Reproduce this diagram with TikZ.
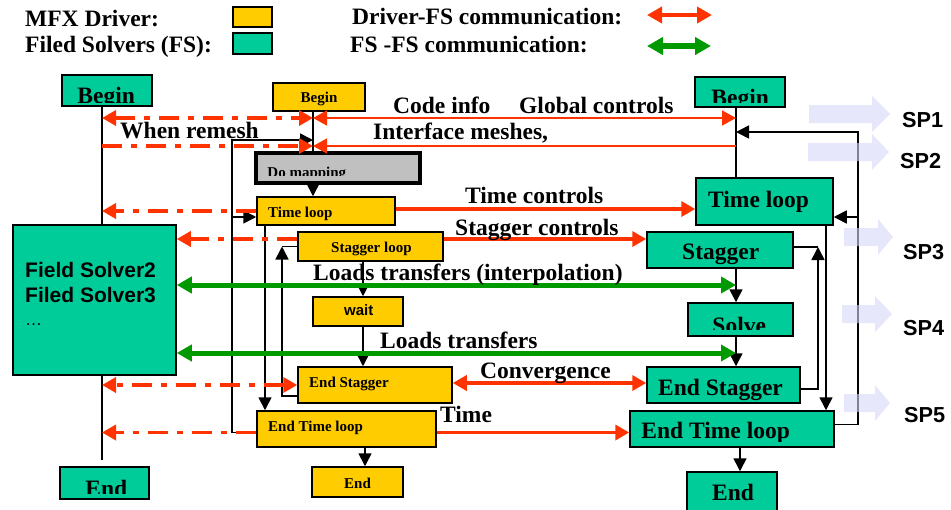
\documentclass[tikz,border=0pt]{standalone}
\usepackage{fontspec}
\setmainfont{Liberation Serif}
\setsansfont{Liberation Sans}
\usetikzlibrary{arrows.meta,fit}
\definecolor{drvyellow}{HTML}{FFCC00}
\definecolor{fsteal}{HTML}{00CC99}
\definecolor{commred}{HTML}{FF3300}
\definecolor{commgreen}{HTML}{009900}
\definecolor{mapgray}{HTML}{C0C0C0}
\definecolor{spblue}{RGB}{215,215,248}
\newcommand\fBig{\fontsize{23.5}{26}\selectfont\bfseries}
\newcommand\fSmall{\fontsize{15}{17}\selectfont\bfseries}
\newcommand\fSans{\sffamily\fontsize{21}{24}\selectfont\bfseries}
\newcommand\fSansS{\sffamily\fontsize{15}{17}\selectfont\bfseries}
\newcommand\fSP{\sffamily\fontsize{21.7}{24}\selectfont\bfseries}
% faint block arrow: left x, head base x, tip x, centre y
\newcommand\sparrowshape[4]{%
  \fill[spblue, fill opacity=0.6] (#1,#4-9) -- (#2,#4-9) -- (#2,#4-18) -- (#3,#4)
    -- (#2,#4+18) -- (#2,#4+9) -- (#1,#4+9) -- cycle;}
% box label whose lower part is cut off: node, x offset, baseline offset, cut height, font, text
\newcommand\cutlabel[6]{%
  \begin{scope}
    \clip ([yshift=#4]#1.south west) rectangle (#1.north east);
    \node[anchor=base west, inner sep=0pt, font=#5] at ([xshift=#2,yshift=#3]#1.south west) {#6};
  \end{scope}}
\begin{document}
\begin{tikzpicture}[x=1pt, y=-1pt,
  box/.style={draw=black, line width=1.5pt, inner sep=0pt},
  ybox/.style={box, fill=drvyellow},
  tbox/.style={box, fill=fsteal},
  mbox/.style={box, fill=mapgray, line width=3.5pt},
  lbl/.style={anchor=base west, inner sep=0pt, font=\fBig},
  slbl/.style={anchor=base west, inner sep=0pt, font=\fSmall},
  blkline/.style={draw=black, line width=1.6pt},
  blk/.style={blkline, -{Triangle[length=13pt,width=13pt]}},
  rthin/.style={draw=commred, line width=1.8pt, >={Triangle[length=14pt,width=15pt]}},
  rsolid/.style={draw=commred, line width=3.5pt, >={Triangle[length=14pt,width=15pt]}},
  rdash/.style={draw=commred, line width=3.5pt, dash pattern=on 20pt off 9pt on 6pt off 9pt,
     >={Triangle[length=14pt,width=15pt]}},
  gline/.style={draw=commgreen, line width=5pt, >={Triangle[length=15pt,width=16pt]}},
]
\useasboundingbox (0,0) rectangle (951,509);
\clip (0,0) rectangle (951,509);

% ---------- legend ----------
\node[lbl] (legA) at (25,26) {MFX Driver:};
\node[lbl] (legB) at (25,52) {Filed Solvers (FS):};
\node[ybox, fit={(233,7)(272,27)}] (legY) {};
\node[tbox, fit={(233,33)(272,54)}] (legT) {};
\node[lbl] (legC) at (352,24) {Driver-FS communication:};
\node[lbl] (legD) at (350,52) {FS -FS communication:};
\coordinate (legR1) at (647,15);
\coordinate (legR2) at (712,15);
\coordinate (legG1) at (647,46);
\coordinate (legG2) at (711,46);
\draw[draw=commred, line width=4.5pt, {Triangle[length=15pt,width=16pt]}-{Triangle[length=15pt,width=16pt]}] (legR1) -- (legR2);
\draw[draw=commgreen, line width=5.5pt, {Triangle[length=16pt,width=17pt]}-{Triangle[length=16pt,width=17pt]}] (legG1) -- (legG2);

% ---------- lanes ----------
\coordinate (fsL) at (102,0);
\coordinate (drv) at (313,0);
\coordinate (fsR) at (736,0);
\coordinate (lpA) at (232,0);
\coordinate (lpB) at (265,0);
\coordinate (lpC) at (282,0);
\coordinate (cx)  at (363,0);
\coordinate (ex)  at (365,0);
\coordinate (lpD) at (818,0);
\coordinate (lpE) at (826,0);
\coordinate (lpF) at (858,0);
\coordinate (ex2) at (740,0);
\coordinate (yCode) at (0,118);
\coordinate (yMesh) at (0,146);
\coordinate (yRem)  at (0,140);
\coordinate (yRet)  at (0,132);
\coordinate (yLT1)  at (0,285);
\coordinate (yLT2)  at (0,353);
\coordinate (yLEnd) at (0,460);

% ---------- left field solvers ----------
\node[tbox, fit={(62,75)(152,106)}] (lBegin) {};
\cutlabel{lBegin}{16}{3}{4.5}{\fBig}{Begin}
\node[tbox, fit={(13,225)(176,375)}] (lFS) {};
\node[anchor=base west, inner sep=0pt, font=\fSans] (fs2) at (25,277) {Field Solver2};
\node[anchor=base west, inner sep=0pt, font=\fSans] (fs3) at (25,302) {Filed Solver3};
\node[anchor=base west, inner sep=0pt, font=\sffamily\fontsize{17}{20}\selectfont] (fsd) at (25,325) {…};
\node[tbox, fit={(60,467)(149,499)}] (lEnd) {};
\cutlabel{lEnd}{26}{3.5}{6}{\fBig}{End}

% ---------- MFX driver ----------
\node[ybox, fit={(273,83)(365,111)}] (dBegin) {};
\node[slbl, anchor=base] at (319,102) {Begin};
\node[mbox, fit={(256,153)(420,183)}] (dMap) {};
\cutlabel{dMap}{13}{7}{9}{\fSmall}{Do mapping}
\node[ybox, fit={(257,197)(395,225)}] (dTime) {};
\node[slbl] at (268,217) {Time loop};
\node[ybox, fit={(298,232)(443,261)}] (dStag) {};
\node[slbl] at (331,252) {Stagger loop};
\node[ybox, fit={(313,297)(403,326)}] (dWait) {};
\node[anchor=base west, inner sep=0pt, font=\fSansS] at (344,315) {wait};
\node[ybox, fit={(298,367)(452,403)}] (dEStag) {};
\node[slbl] at (309,387) {End Stagger};
\node[ybox, fit={(257,411)(436,447)}] (dETime) {};
\node[slbl] at (268,431) {End Time loop};
\node[ybox, fit={(312,467)(403,497)}] (dEnd) {};
\node[slbl] at (344,488) {End};

% ---------- right field solver ----------
\node[tbox, fit={(695,77)(785,107)}] (rBegin) {};
\cutlabel{rBegin}{17}{2.5}{5}{\fBig}{Begin}
\node[tbox, fit={(696,178)(833,225)}] (rTime) {};
\node[lbl] at (708,207) {Time loop};
\node[tbox, fit={(647,232)(793,268)}] (rStag) {};
\node[lbl] at (682,259) {Stagger};
\node[tbox, fit={(688,303)(793,336)}] (rSolve) {};
\cutlabel{rSolve}{25}{3.5}{7}{\fBig}{Solve}
\node[tbox, fit={(647,367)(800,403)}] (rEStag) {};
\node[lbl] at (658,395) {End Stagger};
\node[tbox, fit={(630,411)(834,447)}] (rETime) {};
\cutlabel{rETime}{12}{9}{6}{\fBig}{End Time loop}
\node[tbox, fit={(687,472)(777,515)}] (rEnd) {};
\node[lbl] at (712,500) {End};

% ---------- lifelines and control flow ----------
\draw[blkline] (lBegin.south -| fsL) -- (lFS.north -| fsL);
\draw[blkline] (lFS.south -| fsL) -- (fsL |- yLEnd);
\draw[blkline] (rBegin.south -| fsR) -- (rTime.north -| fsR);
\draw[blkline] (dBegin.south -| drv) -- (dMap.north -| drv);
\draw[blk] (dMap.south -| drv) -- (dTime.north -| drv);

\draw[blk] ([yshift=-3.5]dETime.west) -| (lpA |- yRem) -- (drv |- yRem);
\draw[blk] ([yshift=-6]dTime.west -| lpA) -- ([yshift=-6]dTime.west);
\draw[blk] (dTime.south -| lpB) -- (dETime.north -| lpB);
\draw[blk] ([yshift=-11]dEStag.west) -| (dStag.west -| lpC);
\draw[blkline] (dStag.west -| lpC) -- (dStag.west);
\draw[blk] (dStag.south -| cx) -- (dWait.north -| cx);
\draw[blk] (dWait.south -| cx) -- (dEStag.north -| cx);
\draw[blk] (dETime.south -| ex) -- (dEnd.north -| ex);

\draw[blk] ([yshift=4.5]rETime.east) -| (lpF |- yRet) -- (fsR |- yRet);
\draw[blk] ([yshift=-15.5]rTime.east -| lpF) -- ([yshift=-15.5]rTime.east);
\draw[blk] (rTime.south -| lpE) -- (rETime.north -| lpE);
\draw[blk] ([yshift=-4]rEStag.east) -| ([yshift=3]rStag.east -| lpD);
\draw[blkline] ([yshift=3]rStag.east -| lpD) -- ([yshift=3]rStag.east);
\draw[blk] (rStag.south -| fsR) -- (rSolve.north -| fsR);
\draw[blk] (rSolve.south -| fsR) -- (rEStag.north -| fsR);
\draw[blk] (rETime.south -| ex2) -- (rEnd.north -| ex2);

% ---------- driver to field solver messages ----------
\draw[rdash,<->] (fsL |- yCode) -- (drv |- yCode);
\draw[rdash,->] (fsL |- yMesh) -- (drv |- yMesh);
\draw[rdash,->] (dTime.west) -- (dTime.west -| fsL);
\draw[rdash,->] ([yshift=7.5]dStag.west) -- ([yshift=7.5]dStag.west -| lFS.east);
\draw[rdash,<->] (dEStag.west) -- (dEStag.west -| fsL);
\draw[rdash,->] ([yshift=-3.5]dETime.west) -- ([yshift=-3.5]dETime.west -| fsL);

\draw[rthin,<->] (drv |- yCode) -- (fsR |- yCode);
\draw[rthin,->, line width=1.5pt] (fsR |- yMesh) -- (drv |- yMesh);
\draw[rsolid,->] ([yshift=2]dTime.east) -- ([yshift=2]dTime.east -| rTime.west);
\draw[rsolid,->] ([yshift=7.5]dStag.east) -- ([yshift=7.5]dStag.east -| rStag.west);
\draw[rsolid,<->] ([yshift=2]dEStag.east) -- ([yshift=2]dEStag.east -| rEStag.west);
\draw[rsolid,->] ([yshift=-3.5]dETime.east) -- ([yshift=-3.5]dETime.east -| rETime.west);

% ---------- field solver to field solver transfers ----------
\draw[gline,<->] (lFS.east |- yLT1) -- (fsR |- yLT1);
\draw[gline,<->] (lFS.east |- yLT2) -- (fsR |- yLT2);

% ---------- message labels ----------
\node[lbl] at (393,113) {Code info};
\node[lbl] at (519,113) {Global controls};
\node[lbl] at (373,139) {Interface meshes,};
\node[lbl] at (120,138) {When remesh};
\node[lbl] at (465,203) {Time controls};
\node[lbl] at (455,235) {Stagger controls};
\node[lbl] at (313,280) {Loads transfers (interpolation)};
\node[lbl] at (380,348) {Loads transfers};
\node[lbl] at (480,378) {Convergence};
\node[lbl] at (440,422) {Time};

% ---------- sub-process markers ----------
\sparrowshape{809}{872}{890}{114}
\sparrowshape{808}{872}{889}{152}
\sparrowshape{844}{878}{893}{237}
\sparrowshape{842}{875}{892}{314}
\sparrowshape{844}{875}{890}{403}
\node[anchor=base west, inner sep=0pt, font=\fSP] at (902,127) {SP1};
\node[anchor=base west, inner sep=0pt, font=\fSP] at (900,168) {SP2};
\node[anchor=base west, inner sep=0pt, font=\fSP] at (903,259) {SP3};
\node[anchor=base west, inner sep=0pt, font=\fSP] at (903,335) {SP4};
\node[anchor=base west, inner sep=0pt, font=\fSP] at (904,422) {SP5};
\end{tikzpicture}
\end{document}
